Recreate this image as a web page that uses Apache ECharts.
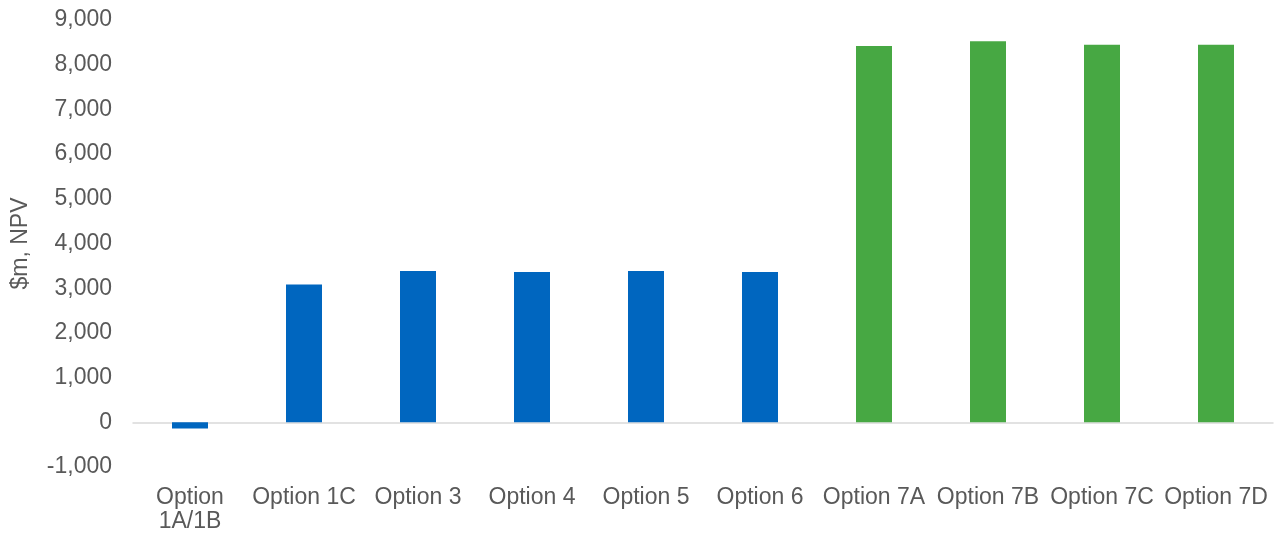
<!DOCTYPE html>
<html>
<head>
<meta charset="utf-8">
<script src="https://cdn.jsdelivr.net/npm/echarts@6/dist/echarts.min.js"></script>
<style>
  html, body { margin: 0; padding: 0; background: #ffffff; }
  #chart { width: 1281px; height: 536px; }
</style>
</head>
<body>
<div id="chart"></div>
<script>
// Net present value by option, $m
const categories = ['Option 1A/1B', 'Option 1C', 'Option 3', 'Option 4', 'Option 5', 'Option 6',
                    'Option 7A', 'Option 7B', 'Option 7C', 'Option 7D'];
const npvValues = [-140, 3080, 3385, 3360, 3385, 3360, 8420, 8525, 8445, 8445];
// Options 1A–6 in blue, option 7 variants in green
const barGroups = ['base', 'base', 'base', 'base', 'base', 'base', 'seven', 'seven', 'seven', 'seven'];
const groupColors = { base: '#0066BF', seven: '#47A843' };
const yTicks = { min: -1000, max: 9000, step: 1000 };

const textColor = '#595959';
const fontFamily = '"Liberation Sans", Arial, sans-serif';

const chart = echarts.init(document.getElementById('chart'), null, { renderer: 'canvas' });

chart.setOption({
  backgroundColor: '#ffffff',
  animation: false,
  grid: { left: 133, right: 8, top: 20, bottom: 69, containLabel: false, outerBoundsMode: 'none' },
  xAxis: {
    type: 'category',
    data: categories,
    axisLine: { onZero: true, lineStyle: { color: '#D9D9D9', width: 1.5 } },
    axisTick: { show: false },
    axisLabel: {
      color: textColor,
      fontFamily: fontFamily,
      fontSize: 23,
      lineHeight: 24,
      margin: 19,
      interval: 0,
      // long names wrap onto two lines at the first space
      formatter: v => (v.length > 10 ? v.replace(' ', '\n') : v)
    }
  },
  yAxis: {
    type: 'value',
    min: yTicks.min,
    max: yTicks.max,
    interval: yTicks.step,
    name: '$m, NPV',
    nameLocation: 'middle',
    nameRotate: 90,
    nameGap: 101,
    nameTextStyle: { color: textColor, fontFamily: fontFamily, fontSize: 23 },
    axisLine: { show: false },
    axisTick: { show: false },
    splitLine: { show: false },
    axisLabel: {
      color: textColor,
      fontFamily: fontFamily,
      fontSize: 23,
      margin: 21,
      formatter: v => v.toLocaleString('en-US')
    }
  },
  series: [{
    type: 'bar',
    barWidth: 36,
    data: npvValues.map((v, i) => ({
      value: v,
      itemStyle: { color: groupColors[barGroups[i]] }
    }))
  }]
});
</script>
</body>
</html>
